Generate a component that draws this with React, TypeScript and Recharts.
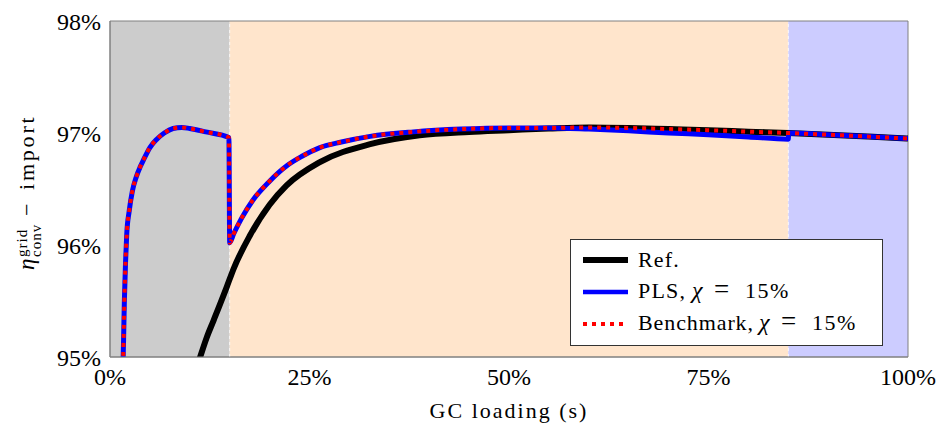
import React from 'react';
import { ComposedChart, Line, XAxis, YAxis, ReferenceArea, ReferenceLine, Legend } from 'recharts';

const FONT = "'Liberation Serif', 'Times New Roman', serif";

// Reference (black)
const refLoad = [10.5, 11.3, 12.1, 13, 14.6, 15.5, 17.5, 20, 22.1, 26.3, 32.6, 38.8, 45, 50, 55, 60, 65, 70, 75, 80, 85, 90, 95, 100];
const refEff = [94.82, 95.0, 95.17, 95.33, 95.62, 95.79, 96.08, 96.36, 96.53, 96.74, 96.9, 96.98, 97.01, 97.025, 97.04, 97.05, 97.045, 97.035, 97.025, 97.012, 97.0, 96.985, 96.968, 96.95];

// PLS (blue)
const plsLoad = [1.6, 1.7, 1.8, 1.95, 2.1, 2.4, 2.8, 3.3, 3.8, 4.2, 5, 5.8, 6.8, 7.9, 9, 10, 12, 14.9, 15, 15.5, 16.5, 17.9, 20, 22.2, 24, 26.3, 29, 32.6, 38, 44, 50, 55, 60, 65, 70, 75, 80, 85, 85.05, 90, 95, 100];
const plsEff = [94.85, 95.15, 95.5, 95.85, 96.1, 96.3, 96.48, 96.61, 96.7, 96.76, 96.87, 96.94, 97.0, 97.04, 97.05, 97.04, 97.01, 96.96, 96.02, 96.1, 96.24, 96.4, 96.57, 96.71, 96.79, 96.87, 96.92, 96.97, 97.01, 97.035, 97.045, 97.045, 97.035, 97.02, 97.0, 96.985, 96.965, 96.945, 97.0, 96.985, 96.968, 96.95];

// Benchmark (red dotted)
const benchLoad = [1.6, 1.7, 1.8, 1.95, 2.1, 2.4, 2.8, 3.3, 3.8, 4.2, 5, 5.8, 6.8, 7.9, 9, 10, 12, 14.9, 15, 15.5, 16.5, 17.9, 20, 22.2, 24, 26.3, 29, 32.6, 38, 44, 50, 55, 60, 65, 70, 75, 80, 85, 90, 95, 100];
const benchEff = [94.85, 95.15, 95.5, 95.85, 96.1, 96.3, 96.48, 96.61, 96.7, 96.76, 96.87, 96.94, 97.0, 97.04, 97.05, 97.04, 97.01, 96.96, 96.02, 96.1, 96.24, 96.4, 96.57, 96.71, 96.79, 96.87, 96.92, 96.97, 97.01, 97.035, 97.045, 97.045, 97.05, 97.045, 97.035, 97.025, 97.012, 97.0, 96.985, 96.968, 96.95];

const xTicks = [0, 25, 50, 75, 100];
const yTicks = [95, 96, 97, 98];

// Shaded operating regions
const regionStarts = [0, 15, 85];
const regionEnds = [15, 85, 100];
const regionColors = ['#cccccc', '#ffe5cc', '#ccccff'];
const regionBorders = [15, 85];

const zip = (xs: number[], ys: number[]) => xs.map((x, i) => ({ x, y: ys[i] }));
const refData = zip(refLoad, refEff);
const plsData = zip(plsLoad, plsEff);
const benchData = zip(benchLoad, benchEff);

const YAxisLabel = () => (
  <text transform="translate(25.5, 262) rotate(-90)" fontFamily={FONT} fill="#000">
    <tspan x={0} y={0} fontSize={23} fontStyle="italic">η</tspan>
    <tspan x={13} y={-7} fontSize={15} letterSpacing={1}>grid</tspan>
    <tspan x={13} y={7} fontSize={15} letterSpacing={1}>conv</tspan>
    <tspan x={54} y={0} fontSize={22}>−</tspan>
    <tspan x={80} y={0} fontSize={22} letterSpacing={2.8}>import</tspan>
  </text>
);

const legendText = { fontFamily: FONT, fontSize: 22, fill: '#000' };

const LegendBox = () => (
  <svg width={313} height={107} style={{ display: 'block' }}>
    <rect x={0.5} y={0.5} width={312} height={106} fill="#ffffff" stroke="#333333" strokeWidth={1} />
    <line x1={13} x2={58} y1={21} y2={21} stroke="#000000" strokeWidth={6} />
    <line x1={13} x2={58} y1={53} y2={53} stroke="#0000ff" strokeWidth={4.5} />
    <line x1={13} x2={58} y1={85} y2={85} stroke="#ff0000" strokeWidth={4} strokeDasharray="4 5" />
    <text x={68} y={28} {...legendText} letterSpacing={1.2}>Ref.</text>
    <text y={59} {...legendText}>
      <tspan x={68} letterSpacing={1.2}>PLS,</tspan>
      <tspan x={122} fontStyle="italic" fontSize={24}>χ</tspan>
      <tspan x={144} fontSize={27}>=</tspan>
      <tspan x={175} letterSpacing={1.5}>15%</tspan>
    </text>
    <text y={91} {...legendText}>
      <tspan x={68} letterSpacing={0.9}>Benchmark,</tspan>
      <tspan x={189} fontStyle="italic" fontSize={24}>χ</tspan>
      <tspan x={211} fontSize={27}>=</tspan>
      <tspan x={242} letterSpacing={1.5}>15%</tspan>
    </text>
  </svg>
);

export default function App() {
  return (
    <div style={{ width: 937, height: 419 }}>
      <ComposedChart width={937} height={419} margin={{ top: 13, right: 37, bottom: 0, left: 0 }}>
        {regionStarts.map((s, i) => (
          <ReferenceArea key={'r' + i} x1={s} x2={regionEnds[i]} y1={95} y2={98} fill={regionColors[i]} fillOpacity={1} stroke="none" ifOverflow="hidden" />
        ))}
        {regionBorders.map((b) => (
          <ReferenceLine key={'b' + b} x={b} stroke="#ffffff" strokeOpacity={0.8} strokeDasharray="3 3" strokeWidth={1} />
        ))}
        <ReferenceArea x1={0} x2={100} y1={95} y2={98} fill="none" stroke="#808080" strokeWidth={1} />
        <XAxis
          type="number"
          dataKey="x"
          domain={[0, 100]}
          ticks={xTicks}
          allowDataOverflow
          tickFormatter={(v: number) => `${v}%`}
          tickLine={false}
          axisLine={{ stroke: '#808080' }}
          tickMargin={5}
          height={70}
          tick={{ fontFamily: FONT, fontSize: 24, fill: '#000' }}
          label={{ value: 'GC loading (s)', position: 'insideBottom', offset: 9, fontFamily: FONT, fontSize: 22, letterSpacing: 2, fill: '#000' }}
        />
        <YAxis
          type="number"
          domain={[95, 98]}
          ticks={yTicks}
          allowDataOverflow
          tickFormatter={(v: number) => `${v}%`}
          tickLine={false}
          axisLine={{ stroke: '#808080' }}
          tickMargin={3}
          width={102}
          tick={{ fontFamily: FONT, fontSize: 24, fill: '#000' }}
          label={<YAxisLabel />}
        />
        <Line data={refData} dataKey="y" type="monotone" stroke="#000000" strokeWidth={6} dot={false} isAnimationActive={false} name="Ref." />
        <Line data={plsData} dataKey="y" type="monotone" stroke="#0000ff" strokeWidth={5} dot={false} isAnimationActive={false} name="PLS" />
        <Line data={benchData} dataKey="y" type="monotone" stroke="#ff0000" strokeWidth={4} strokeDasharray="4 5" dot={false} isAnimationActive={false} name="Benchmark" />
        <Legend
          layout="horizontal"
          verticalAlign="middle"
          align="center"
          content={() => <LegendBox />}
          wrapperStyle={{ position: 'absolute', left: 562, top: 231, width: 313, height: 107 }}
        />
      </ComposedChart>
    </div>
  );
}
